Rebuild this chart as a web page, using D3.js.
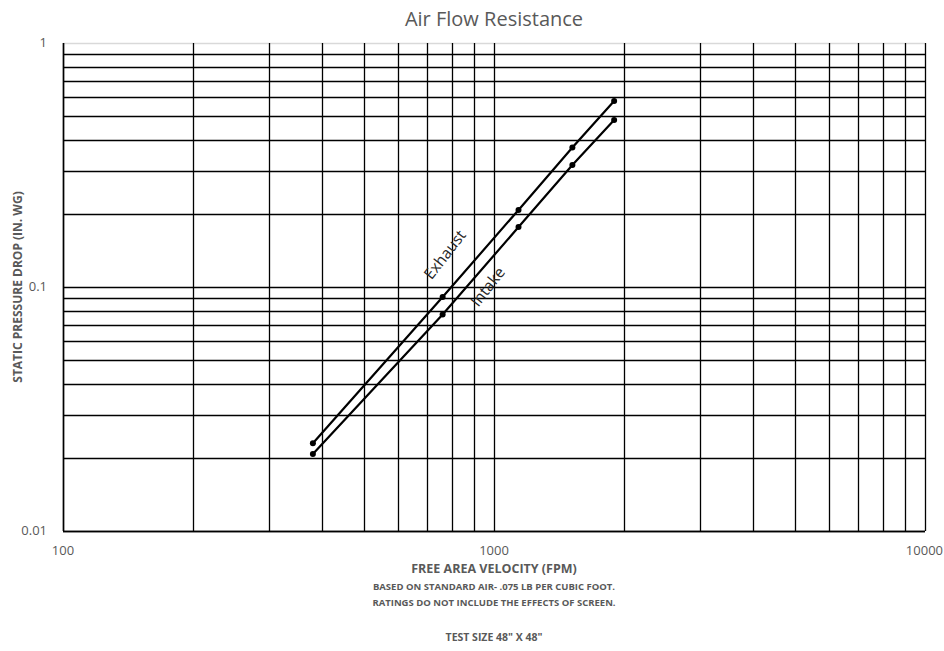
<!DOCTYPE html>
<html><head><meta charset="utf-8">
<script src="https://cdn.jsdelivr.net/npm/d3@7"></script>
<style>body{margin:0;background:#fff}svg{display:block}text{font-family:"Open Sans","Liberation Sans",sans-serif}</style>
</head><body><svg id="c" width="944" height="651"></svg>
<script>
const velocity = [380, 760, 1140, 1520, 1900];
const exhaust = [0.0229, 0.091, 0.207, 0.373, 0.578];
const intake = [0.0207, 0.0772, 0.176, 0.316, 0.483];
const xTickLabels = [100, 1000, 10000];
const yTickLabels = [0.01, 0.1, 1];
const seriesNames = ["Exhaust", "Intake"];

const svg = d3.select("#c");
const L = 63, R = 925, T = 43, B = 531;
const x = d3.scaleLog().domain([100, 10000]).range([L, R]);
const y = d3.scaleLog().domain([0.01, 1]).range([B, T]);
const gray = "#595959";

// grid
const xGrid = [], yGrid = [];
for (let d = 100; d <= 1000; d *= 10) for (let k = 1; k <= 9; k++) xGrid.push(k * d);
xGrid.push(10000);
for (let d = 0.01; d <= 0.11; d *= 10) for (let k = 1; k <= 9; k++) yGrid.push(+(k * d).toPrecision(3));
yGrid.push(1);

svg.append("g").selectAll("line").data(yGrid).join("line")
  .attr("x1", L).attr("x2", R).attr("y1", d => Math.round(y(d)) + 0.5).attr("y2", d => Math.round(y(d)) + 0.5)
  .attr("stroke", d => d === 1 ? "#d9d9d9" : "#000").attr("stroke-width", 1.3);
svg.append("g").selectAll("line").data(xGrid).join("line")
  .attr("y1", T).attr("y2", B).attr("x1", d => Math.round(x(d)) + 0.5).attr("x2", d => Math.round(x(d)) + 0.5)
  .attr("stroke", "#000").attr("stroke-width", 1.3);
svg.append("line").attr("x1", L).attr("x2", R).attr("y1", B + 0.5).attr("y2", B + 0.5).attr("stroke", "#000").attr("stroke-width", 1.5);
svg.append("line").attr("x1", L + 0.5).attr("x2", L + 0.5).attr("y1", T).attr("y2", B).attr("stroke", "#000").attr("stroke-width", 1.5);

// tick labels
svg.append("g").selectAll("text").data(yTickLabels).join("text")
  .attr("x", 47).attr("y", d => y(d) + 4).attr("text-anchor", "end")
  .attr("font-size", 13).attr("fill", gray).text(d => String(d));
svg.append("g").selectAll("text").data(xTickLabels).join("text")
  .attr("x", d => d === 10000 ? 943 : x(d)).attr("y", 555).attr("text-anchor", d => d === 10000 ? "end" : "middle")
  .attr("font-size", 13).attr("fill", gray).text(d => String(d));

// series
const line = d3.line().x(d => x(d[0])).y(d => y(d[1]));
[exhaust, intake].forEach(s => {
  const pts = velocity.map((v, i) => [v, s[i]]);
  svg.append("path").attr("d", line(pts)).attr("fill", "none").attr("stroke", "#000").attr("stroke-width", 2.2);
  svg.append("g").selectAll("circle").data(pts).join("circle")
    .attr("cx", d => x(d[0])).attr("cy", d => y(d[1])).attr("r", 3).attr("fill", "#000");
});

// series labels
svg.append("text").attr("transform", "translate(449,258) rotate(-52)").attr("text-anchor", "middle")
  .attr("font-size", 15.5).attr("fill", "#262626").text(seriesNames[0]);
svg.append("text").attr("transform", "translate(492,290) rotate(-52)").attr("text-anchor", "middle")
  .attr("font-size", 15.5).attr("fill", "#262626").text(seriesNames[1]);

// titles
svg.append("text").attr("x", 494).attr("y", 26).attr("text-anchor", "middle")
  .attr("font-size", 20).attr("fill", gray).text("Air Flow Resistance");
svg.append("text").attr("transform", "translate(22,287) rotate(-90)").attr("text-anchor", "middle")
  .attr("font-size", 12).attr("font-weight", "bold").attr("fill", gray).text("STATIC PRESSURE DROP (IN. WG)");
svg.append("text").attr("x", 494).attr("y", 573).attr("text-anchor", "middle")
  .attr("font-size", 12.5).attr("font-weight", "bold").attr("fill", gray).text("FREE AREA VELOCITY (FPM)");
svg.append("text").attr("x", 494).attr("y", 590).attr("text-anchor", "middle")
  .attr("font-size", 9.5).attr("font-weight", "bold").attr("fill", gray).text("BASED ON STANDARD AIR- .075 LB PER CUBIC FOOT.");
svg.append("text").attr("x", 494).attr("y", 606).attr("text-anchor", "middle")
  .attr("font-size", 9.5).attr("font-weight", "bold").attr("fill", gray).text("RATINGS DO NOT INCLUDE THE EFFECTS OF SCREEN.");
svg.append("text").attr("x", 494).attr("y", 641).attr("text-anchor", "middle")
  .attr("font-size", 10.5).attr("font-weight", "bold").attr("fill", gray).text("TEST SIZE 48\" X 48\"");
</script></body></html>
